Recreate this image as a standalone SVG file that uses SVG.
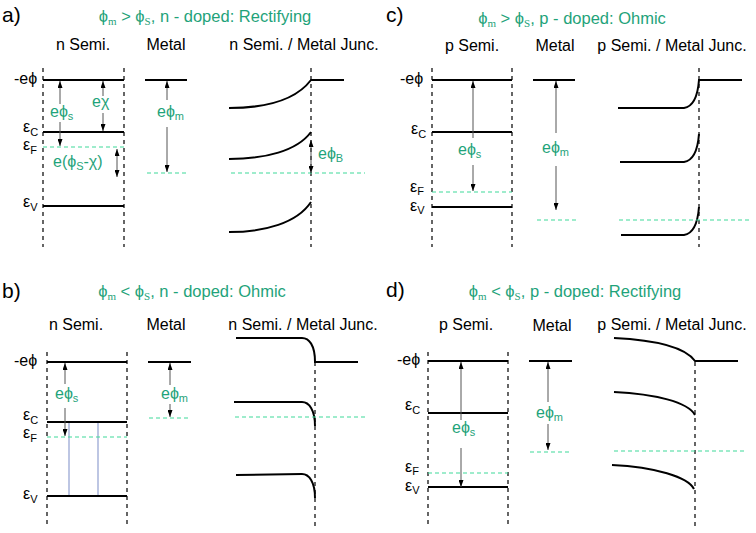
<svg xmlns="http://www.w3.org/2000/svg" width="756" height="533" viewBox="0 0 756 533">
<defs>
<style>
text{font-family:"Liberation Sans","DejaVu Sans",Arial,sans-serif;}
.pl{font-size:21px;fill:#000;}
.ti{font-size:16.5px;fill:#1fa37a;text-anchor:middle;}
.sr{font-family:"Liberation Serif","DejaVu Serif",serif;font-size:11px;}
.hd{font-size:16px;fill:#000;text-anchor:middle;}
.lv{font-size:16px;fill:#000;}
.g{font-size:16px;fill:#1fa37a;}
.sb{font-size:11px;}
.lvl{stroke:#000;stroke-width:2;fill:none;}
.crv{stroke:#000;stroke-width:2;fill:none;}
.vd{stroke:#000;stroke-width:1.2;stroke-dasharray:4 4;}
.fd{stroke:#3fd99a;stroke-width:1.2;stroke-dasharray:4 3;}
.ar{stroke:#555;stroke-width:1;}
.bl{stroke:#a7b3da;stroke-width:1.5;}
</style>
<marker id="ah" viewBox="0 0 7 5" refX="7" refY="2.5" markerWidth="7" markerHeight="5" markerUnits="userSpaceOnUse" orient="auto-start-reverse">
<path d="M0,0 L7,2.5 L0,5 z" fill="#000"/>
</marker>
</defs>

<!-- Panel labels and titles -->
<g id="titles">
<text class="pl" x="2" y="22">a)</text>
<text class="pl" x="386" y="22">c)</text>
<text class="pl" x="2" y="298">b)</text>
<text class="pl" x="386" y="297">d)</text>
<text class="ti" x="205" y="22">ϕ<tspan class="sr" dy="3">m</tspan><tspan dy="-3"> &gt; ϕ</tspan><tspan class="sr" dy="3">S</tspan><tspan dy="-3">, n - doped: Rectifying</tspan></text>
<text class="ti" x="572" y="24">ϕ<tspan class="sr" dy="3">m</tspan><tspan dy="-3"> &gt; ϕ</tspan><tspan class="sr" dy="3">S</tspan><tspan dy="-3">, p - doped: Ohmic</tspan></text>
<text class="ti" x="192" y="297">ϕ<tspan class="sr" dy="3">m</tspan><tspan dy="-3"> &lt; ϕ</tspan><tspan class="sr" dy="3">S</tspan><tspan dy="-3">, n - doped: Ohmic</tspan></text>
<text class="ti" x="575" y="297">ϕ<tspan class="sr" dy="3">m</tspan><tspan dy="-3"> &lt; ϕ</tspan><tspan class="sr" dy="3">S</tspan><tspan dy="-3">, p - doped: Rectifying</tspan></text>
</g>

<!-- Panel a -->
<g id="panel-a">
<text class="hd" x="83" y="50">n Semi.</text>
<text class="hd" x="166" y="50">Metal</text>
<text class="hd" x="304" y="50">n Semi. / Metal Junc.</text>
<g id="a-semi">
<line class="vd" x1="43" y1="68" x2="43" y2="247"/>
<line class="vd" x1="124" y1="68" x2="124" y2="247"/>
<line class="lvl" x1="43" y1="80" x2="124" y2="80"/>
<line class="lvl" x1="43" y1="132" x2="124" y2="132"/>
<line class="fd" x1="43" y1="147" x2="124" y2="147"/>
<line class="lvl" x1="43" y1="206" x2="124" y2="206"/>
<text class="lv" x="14" y="84">-eϕ</text>
<text class="lv" x="23" y="132">ε<tspan class="sb" dy="4">C</tspan></text>
<text class="lv" x="23" y="150">ε<tspan class="sb" dy="4">F</tspan></text>
<text class="lv" x="23" y="207">ε<tspan class="sb" dy="4">V</tspan></text>
<text class="g" x="50" y="117">eϕ<tspan class="sb" dy="3">s</tspan></text>
<text class="g" x="92" y="107">eχ</text>
<text class="g" x="53" y="167">e(ϕ<tspan class="sb" dy="3">S</tspan><tspan dy="-3">-χ)</tspan></text>
</g>
<g id="a-metal">
<line class="lvl" x1="145" y1="80" x2="187" y2="80"/>
<line class="fd" x1="147" y1="173" x2="187" y2="173"/>
<text class="g" x="157" y="117">eϕ<tspan class="sb" dy="3">m</tspan></text>
</g>
<g id="a-junction">
<line class="vd" x1="311" y1="68" x2="311" y2="247"/>
<path class="crv" d="M229,108 C265,108 295,101 311,80 L344,80"/>
<path class="crv" d="M229,159 C265,159 297,151 311,132"/>
<path class="crv" d="M229,232 C265,232 297,223 311,202"/>
<line class="fd" x1="231" y1="173" x2="365" y2="173"/>
<text class="g" x="318" y="159">eϕ<tspan class="sb" dy="3">B</tspan></text>
</g>
</g>

<!-- Panel c -->
<g id="panel-c">
<text class="hd" x="472" y="51">p Semi.</text>
<text class="hd" x="555" y="51">Metal</text>
<text class="hd" x="672" y="51">p Semi. / Metal Junc.</text>
<g id="c-semi">
<line class="vd" x1="432" y1="68" x2="432" y2="247"/>
<line class="vd" x1="512" y1="68" x2="512" y2="247"/>
<line class="lvl" x1="432" y1="80" x2="512" y2="80"/>
<line class="lvl" x1="432" y1="132" x2="512" y2="132"/>
<line class="fd" x1="432" y1="192" x2="512" y2="192"/>
<line class="lvl" x1="432" y1="207" x2="512" y2="207"/>
<text class="lv" x="400" y="84">-eϕ</text>
<text class="lv" x="411" y="134">ε<tspan class="sb" dy="4">C</tspan></text>
<text class="lv" x="410" y="192">ε<tspan class="sb" dy="3">F</tspan></text>
<text class="lv" x="410" y="211">ε<tspan class="sb" dy="3">V</tspan></text>
<text class="g" x="458" y="155">eϕ<tspan class="sb" dy="3">s</tspan></text>
</g>
<g id="c-metal">
<line class="lvl" x1="533" y1="80" x2="575" y2="80"/>
<line class="fd" x1="537" y1="220" x2="577" y2="220"/>
<text class="g" x="542" y="153">eϕ<tspan class="sb" dy="3">m</tspan></text>
</g>
<g id="c-junction">
<line class="vd" x1="699" y1="68" x2="699" y2="247"/>
<path class="crv" d="M618,108 L684,108 Q697,106 699,80 L742,80"/>
<path class="crv" d="M620,162 L684,162 Q697,160 699,134"/>
<path class="crv" d="M621,235 L684,235 Q697,233 699,207"/>
<line class="fd" x1="619" y1="220" x2="752" y2="220"/>
</g>
</g>

<!-- Panel b -->
<g id="panel-b">
<text class="hd" x="76" y="330">n Semi.</text>
<text class="hd" x="166" y="330">Metal</text>
<text class="hd" x="303" y="330">n Semi. / Metal Junc.</text>
<g id="b-semi">
<line class="vd" x1="47" y1="352" x2="47" y2="528"/>
<line class="vd" x1="127" y1="352" x2="127" y2="528"/>
<line class="bl" x1="69" y1="422" x2="69" y2="496"/>
<line class="bl" x1="98" y1="422" x2="98" y2="496"/>
<line class="lvl" x1="47" y1="362" x2="127" y2="362"/>
<line class="lvl" x1="47" y1="422" x2="127" y2="422"/>
<line class="fd" x1="47" y1="437" x2="127" y2="437"/>
<line class="lvl" x1="47" y1="496" x2="127" y2="496"/>
<text class="lv" x="14" y="366">-eϕ</text>
<text class="lv" x="23" y="420">ε<tspan class="sb" dy="4">C</tspan></text>
<text class="lv" x="23" y="438">ε<tspan class="sb" dy="4">F</tspan></text>
<text class="lv" x="23" y="499">ε<tspan class="sb" dy="4">V</tspan></text>
<text class="g" x="55" y="399">eϕ<tspan class="sb" dy="3">s</tspan></text>
</g>
<g id="b-metal">
<line class="lvl" x1="148" y1="362" x2="191" y2="362"/>
<line class="fd" x1="149" y1="418" x2="189" y2="418"/>
<text class="g" x="161" y="399">eϕ<tspan class="sb" dy="3">m</tspan></text>
</g>
<g id="b-junction">
<line class="vd" x1="315" y1="362" x2="315" y2="528"/>
<path class="crv" d="M236,338 L302,338 C309,338 315,345 315,362 L358,362"/>
<path class="crv" d="M234,402 L302,402 C309,402 315,410 315,426"/>
<path class="crv" d="M236,475 L302,474 C309,474 315,482 315,498"/>
<line class="fd" x1="235" y1="417" x2="368" y2="417"/>
</g>
</g>

<!-- Panel d -->
<g id="panel-d">
<text class="hd" x="466" y="330">p Semi.</text>
<text class="hd" x="552" y="331">Metal</text>
<text class="hd" x="672" y="330">p Semi. / Metal Junc.</text>
<g id="d-semi">
<line class="vd" x1="428" y1="352" x2="428" y2="528"/>
<line class="vd" x1="508" y1="352" x2="508" y2="528"/>
<line class="lvl" x1="428" y1="361" x2="508" y2="361"/>
<line class="lvl" x1="428" y1="413" x2="508" y2="413"/>
<line class="fd" x1="428" y1="473" x2="508" y2="473"/>
<line class="lvl" x1="428" y1="487" x2="508" y2="487"/>
<text class="lv" x="397" y="365">-eϕ</text>
<text class="lv" x="405" y="410">ε<tspan class="sb" dy="4">C</tspan></text>
<text class="lv" x="405" y="472">ε<tspan class="sb" dy="3">F</tspan></text>
<text class="lv" x="405" y="491">ε<tspan class="sb" dy="3">V</tspan></text>
<text class="g" x="452" y="433">eϕ<tspan class="sb" dy="3">s</tspan></text>
</g>
<g id="d-metal">
<line class="lvl" x1="529" y1="361" x2="572" y2="361"/>
<line class="fd" x1="530" y1="452" x2="570" y2="452"/>
<text class="g" x="536" y="418">eϕ<tspan class="sb" dy="3">m</tspan></text>
</g>
<g id="d-junction">
<line class="vd" x1="695" y1="362" x2="695" y2="530"/>
<path class="crv" d="M614,338 C655,340 685,347 695,361 L738,361"/>
<path class="crv" d="M614,392 C655,394 688,402 695,415"/>
<path class="crv" d="M612,465 C655,467 688,477 694,489"/>
<line class="fd" x1="614" y1="451" x2="747" y2="451"/>
</g>
</g>

<!-- Connectors (arrows) -->
<g id="connectors">
<line class="ar" x1="60" y1="81" x2="60" y2="104" marker-start="url(#ah)"/>
<line class="ar" x1="60" y1="122" x2="60" y2="146" marker-end="url(#ah)"/>
<line class="ar" x1="103" y1="81" x2="103" y2="96" marker-start="url(#ah)"/>
<line class="ar" x1="103" y1="113" x2="103" y2="131" marker-end="url(#ah)"/>
<line class="ar" x1="117" y1="149" x2="117" y2="177" marker-start="url(#ah)" marker-end="url(#ah)"/>
<line class="ar" x1="167" y1="81" x2="167" y2="100" marker-start="url(#ah)"/>
<line class="ar" x1="167" y1="127" x2="167" y2="172" marker-end="url(#ah)"/>
<line class="ar" x1="311" y1="140" x2="311" y2="173" marker-start="url(#ah)" marker-end="url(#ah)"/>

<line class="ar" x1="473" y1="81" x2="473" y2="138" marker-start="url(#ah)"/>
<line class="ar" x1="473" y1="165" x2="473" y2="191" marker-end="url(#ah)"/>
<line class="ar" x1="556" y1="81" x2="556" y2="133" marker-start="url(#ah)"/>
<line class="ar" x1="556" y1="166" x2="556" y2="210" marker-end="url(#ah)"/>

<line class="ar" x1="65" y1="363" x2="65" y2="384" marker-start="url(#ah)"/>
<line class="ar" x1="65" y1="408" x2="65" y2="436" marker-end="url(#ah)"/>
<line class="ar" x1="170" y1="363" x2="170" y2="385" marker-start="url(#ah)"/>
<line class="ar" x1="170" y1="404" x2="170" y2="417" marker-end="url(#ah)"/>

<line class="ar" x1="461" y1="362" x2="461" y2="420" marker-start="url(#ah)"/>
<line class="ar" x1="461" y1="448" x2="461" y2="487" marker-end="url(#ah)"/>
<line class="ar" x1="548" y1="362" x2="548" y2="402" marker-start="url(#ah)"/>
<line class="ar" x1="548" y1="424" x2="548" y2="450" marker-end="url(#ah)"/>
</g>
</svg>
